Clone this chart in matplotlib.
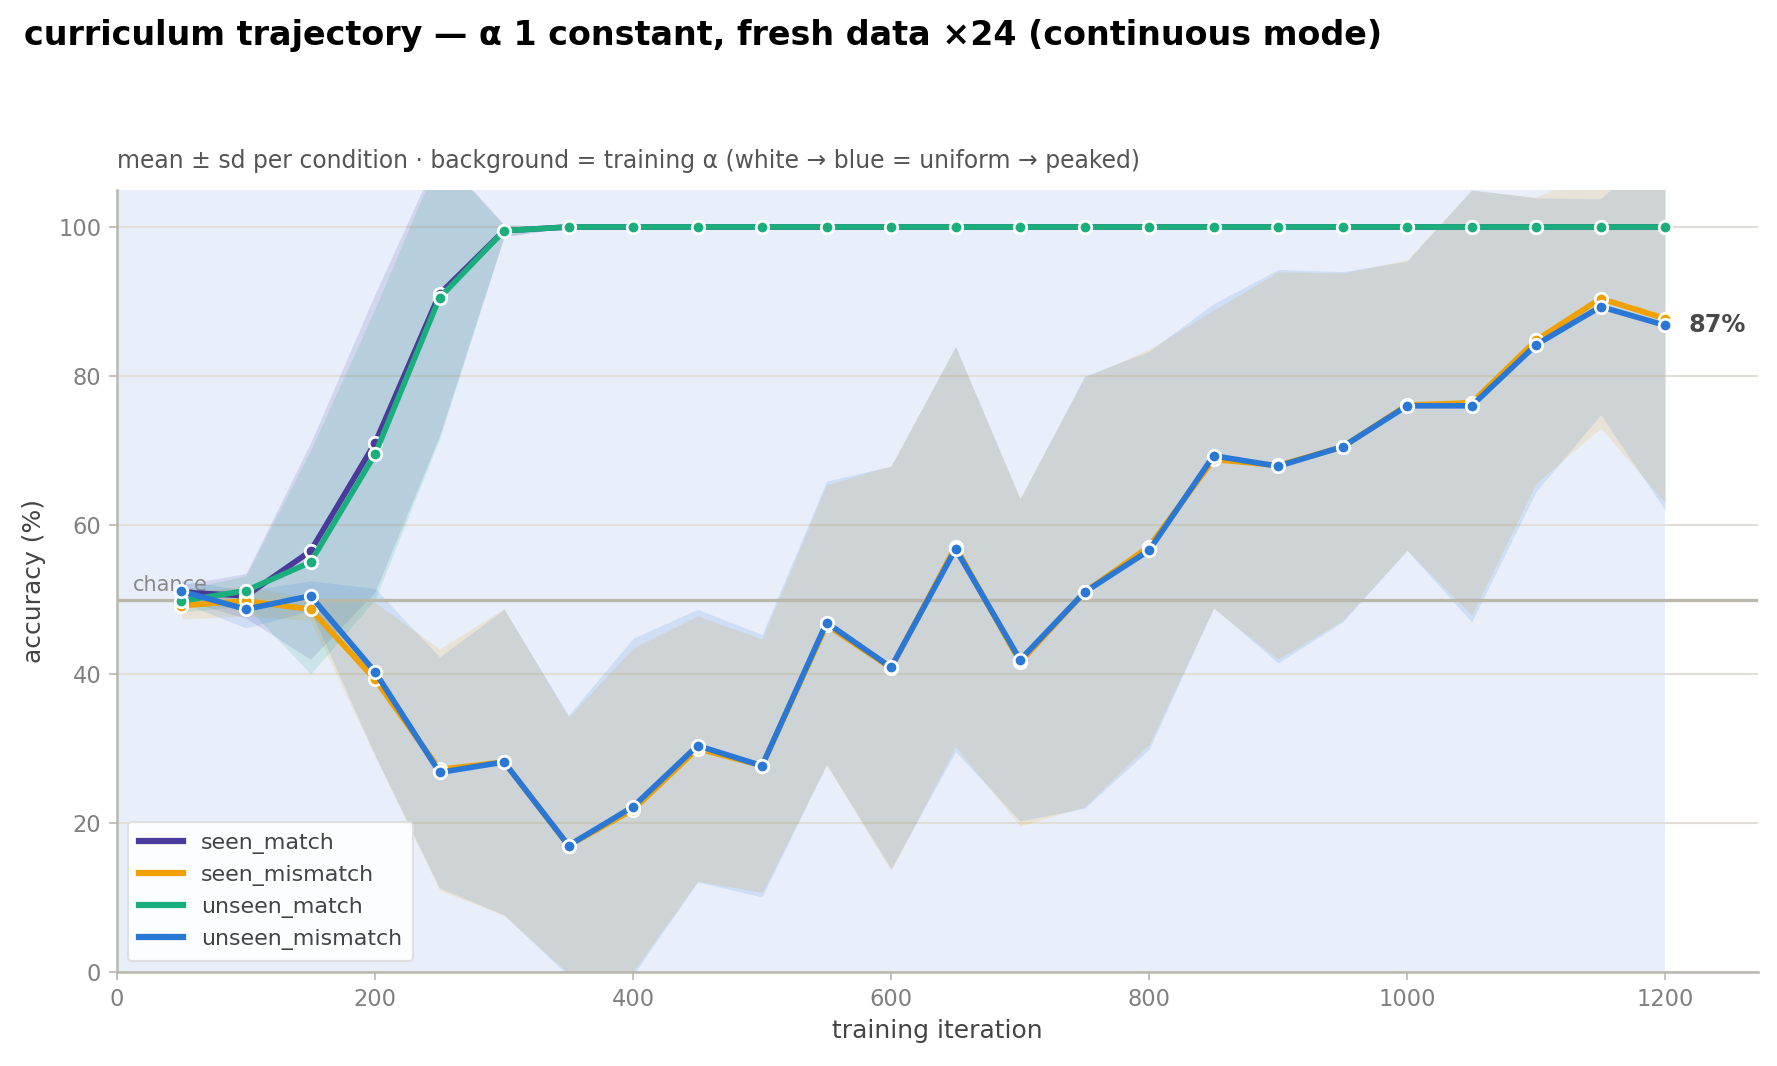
import numpy as np
import matplotlib
matplotlib.use("Agg")
import matplotlib.pyplot as plt

# training iterations (evaluation points)
iterations = [50, 100, 150, 200, 250, 300, 350, 400, 450, 500, 550, 600,
              650, 700, 750, 800, 850, 900, 950, 1000, 1050, 1100, 1150, 1200]

# mean accuracy per condition (%)
seen_match_mean = [51.0, 50.5, 56.5, 71.0, 91.0, 99.5, 100, 100, 100, 100, 100, 100,
                   100, 100, 100, 100, 100, 100, 100, 100, 100, 100, 100, 100]
seen_mismatch_mean = [49.2, 49.8, 48.7, 39.3, 27.2, 28.2, 17.0, 21.8, 30.0, 27.7, 46.6, 40.8,
                      57.1, 41.6, 51.0, 57.1, 68.8, 68.0, 70.5, 76.1, 76.4, 84.8, 90.4, 87.7]
unseen_match_mean = [49.8, 51.2, 55.0, 69.5, 90.5, 99.5, 100, 100, 100, 100, 100, 100,
                     100, 100, 100, 100, 100, 100, 100, 100, 100, 100, 100, 100]
unseen_mismatch_mean = [51.1, 48.7, 50.5, 40.3, 26.8, 28.2, 17.0, 22.2, 30.4, 27.7, 46.9, 40.9,
                        56.8, 41.9, 51.0, 56.6, 69.3, 67.9, 70.5, 76.0, 76.0, 84.2, 89.3, 86.8]

# standard deviation per condition (%)
seen_match_sd = [1.0, 3.0, 14.5, 20.0, 19.0, 0.8, 0, 0, 0, 0, 0, 0,
                 0, 0, 0, 0, 0, 0, 0, 0, 0, 0, 0, 0]
seen_mismatch_sd = [1.8, 2.0, 1.5, 10.3, 16.2, 20.6, 17.2, 21.7, 17.8, 17.0, 18.8, 27.2,
                    26.8, 22.0, 28.8, 26.5, 20.0, 26.0, 23.3, 19.5, 28.5, 19.2, 17.4, 24.7]
unseen_match_sd = [1.5, 2.0, 15.0, 19.5, 19.0, 0.8, 0, 0, 0, 0, 0, 0,
                   0, 0, 0, 0, 0, 0, 0, 0, 0, 0, 0, 0]
unseen_mismatch_sd = [1.5, 2.5, 2.0, 11.2, 15.5, 20.5, 17.5, 22.6, 18.3, 17.6, 19.0, 27.0,
                      27.2, 21.6, 29.0, 26.7, 20.4, 26.4, 23.5, 19.4, 29.0, 19.7, 14.5, 24.8]

conditions = ["seen_match", "seen_mismatch", "unseen_match", "unseen_mismatch"]
means = [seen_match_mean, seen_mismatch_mean, unseen_match_mean, unseen_mismatch_mean]
sds = [seen_match_sd, seen_mismatch_sd, unseen_match_sd, unseen_mismatch_sd]
colors = ["#4a3a9c", "#f0a000", "#1aae7c", "#2a78d6"]

train_span = (0, 1200)
chance_level = 50
final_label = "87%"

fig = plt.figure(figsize=(11.853, 7.107), dpi=150)
ax = fig.add_axes([0.0658, 0.088, 0.923, 0.734])

# background = training alpha (constant here)
ax.axvspan(train_span[0], train_span[1], color="#e8effb", zorder=0, lw=0)

ax.grid(axis="y", color="#e0ded6", lw=1.0, zorder=0.5)
ax.set_axisbelow(True)

x = np.array(iterations)
for name, m, s, c in zip(conditions, means, sds, colors):
    m = np.array(m)
    s = np.array(s)
    ax.fill_between(x, m - s, m + s, color=c, alpha=0.14, lw=0, zorder=1)

ax.axhline(chance_level, color="#b9b8aa", lw=1.6, zorder=1.5)
ax.text(12, chance_level + 0.6, "chance", color="#888888", fontsize=10,
        va="bottom", ha="left", zorder=1.2)

for name, m, s, c in zip(conditions, means, sds, colors):
    ax.plot(x, m, color=c, lw=2.7, marker="o", markersize=6,
            markerfacecolor=c, markeredgecolor="white", markeredgewidth=1.3,
            label=name, zorder=3)

ax.annotate(final_label, xy=(iterations[-1], unseen_mismatch_mean[-1]),
            xytext=(11, 0), textcoords="offset points", va="center", ha="left",
            fontsize=11.5, fontweight="bold", color="#4a4a4a")

ax.set_xlim(0, 1272)
ax.set_ylim(0, 105)
ax.set_yticks([0, 20, 40, 60, 80, 100])
ax.set_xticks([0, 200, 400, 600, 800, 1000, 1200])

for sp in ["top", "right"]:
    ax.spines[sp].set_visible(False)
for sp in ["left", "bottom"]:
    ax.spines[sp].set_color("#b8b8ae")
    ax.spines[sp].set_linewidth(1.2)
ax.tick_params(colors="#b8b8ae", labelcolor="#808080", labelsize=10.8, length=4)

ax.set_xlabel("training iteration", fontsize=12, color="#444444")
ax.set_ylabel("accuracy (%)", fontsize=12, color="#444444", labelpad=6)
ax.set_title("mean ± sd per condition · background = training α (white → blue = uniform → peaked)",
             loc="left", fontsize=11.3, color="#555555", pad=10.5)

fig.text(0.0135, 0.958, "curriculum trajectory — α 1 constant, fresh data ×24 (continuous mode)",
         fontsize=16, fontweight="bold", va="baseline", ha="left")

leg = ax.legend(loc="lower left", fontsize=10.6, frameon=True, handlelength=2.0,
                borderpad=0.5, labelspacing=0.5)
leg.get_frame().set_facecolor("white")
leg.get_frame().set_alpha(0.9)
leg.get_frame().set_edgecolor("#dddddd")
for t in leg.get_texts():
    t.set_color("#444444")
for h in leg.get_lines():
    h.set_linewidth(3)
    h.set_marker("")

fig.savefig("out.png", dpi=150)
